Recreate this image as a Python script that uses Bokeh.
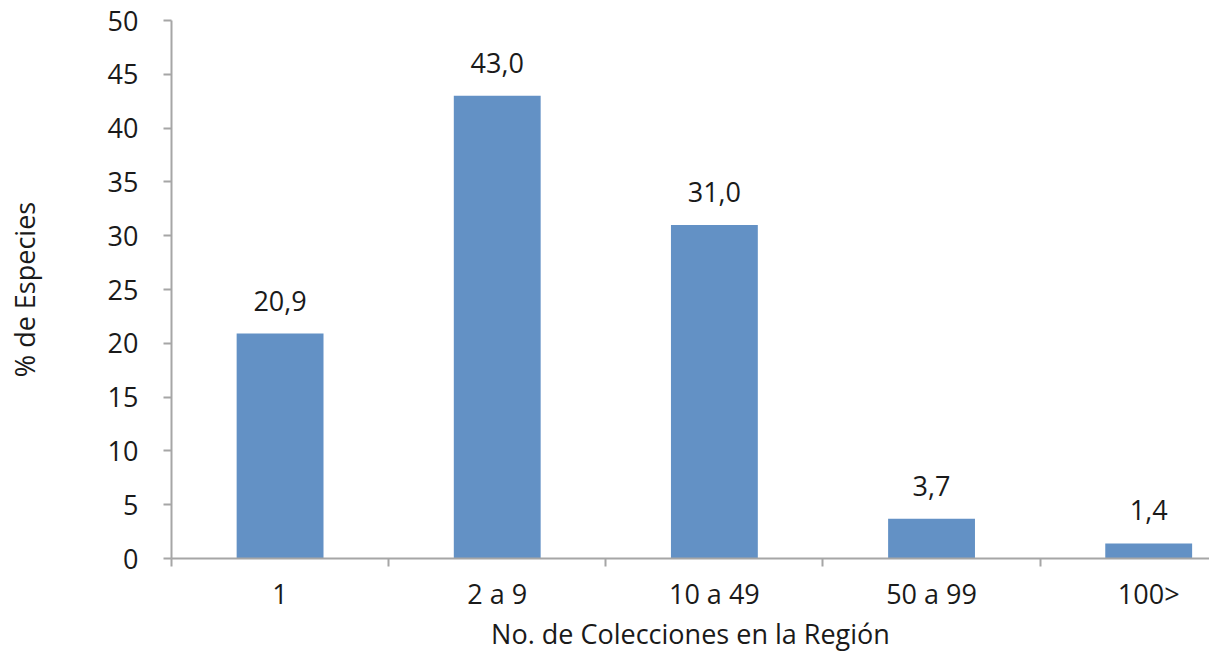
from bokeh.plotting import figure
from bokeh.models import Range1d, FixedTicker, ColumnDataSource
from bokeh.embed import file_html
from bokeh.resources import INLINE
from bokeh.core.properties import value

categories = ["1", "2 a 9", "10 a 49", "50 a 99", "100>"]
percent = [20.9, 43.0, 31.0, 3.7, 1.4]
y_ticks = [0, 5, 10, 15, 20, 25, 30, 35, 40, 45, 50]

FONT = "Open Sans"
BAR = "#6391C5"
AXIS = "#A6A6A6"
TXT = "#1a1a1a"
FS = "27px"

xs = [i + 0.5 for i in range(len(categories))]
labels = [f"{v:.1f}".replace(".", ",") for v in percent]
src = ColumnDataSource(dict(x=xs, top=percent, label=labels))

p = figure(width=1209, height=654, output_backend="svg", toolbar_location=None,
           x_range=Range1d(0, 4.78), y_range=Range1d(0, 50),
           min_border_left=171, min_border_right=0, min_border_top=20, min_border_bottom=96)
p.outline_line_color = None
p.grid.grid_line_color = None

p.vbar(x="x", top="top", width=0.4, source=src, fill_color=BAR, line_color=None)
p.text(x="x", y="top", text="label", source=src, text_align="center", text_baseline="middle",
       y_offset=-33, text_font=value(FONT), text_font_size=FS, text_color=TXT)

xa = p.xaxis[0]
xa.ticker = FixedTicker(ticks=xs, minor_ticks=list(range(len(categories) + 1)))
xa.major_label_overrides = {x: c for x, c in zip(xs, categories)}
xa.major_tick_out = 0
xa.major_tick_in = 0
xa.minor_tick_out = 8
xa.minor_tick_in = 0
xa.minor_tick_line_color = AXIS
xa.minor_tick_line_width = 2
xa.axis_line_color = AXIS
xa.axis_line_width = 2
xa.major_label_text_font = FONT
xa.major_label_text_font_size = FS
xa.major_label_text_color = TXT
xa.major_label_standoff = 8
xa.axis_label = "No. de Colecciones en la Región"
xa.axis_label_text_font = FONT
xa.axis_label_text_font_size = FS
xa.axis_label_text_font_style = "normal"
xa.axis_label_text_color = TXT
xa.axis_label_standoff = 0

ya = p.yaxis[0]
ya.ticker = FixedTicker(ticks=y_ticks)
ya.minor_tick_line_color = None
ya.major_tick_out = 8
ya.major_tick_in = 0
ya.major_tick_line_color = AXIS
ya.major_tick_line_width = 2
ya.axis_line_color = AXIS
ya.axis_line_width = 2
ya.major_label_text_font = FONT
ya.major_label_text_font_size = FS
ya.major_label_text_color = TXT
ya.major_label_standoff = 25
ya.axis_label = "% de Especies"
ya.axis_label_text_font = FONT
ya.axis_label_text_font_size = FS
ya.axis_label_text_font_style = "normal"
ya.axis_label_text_color = TXT
ya.axis_label_standoff = 62

open("out.html", "w").write(file_html(p, INLINE))
